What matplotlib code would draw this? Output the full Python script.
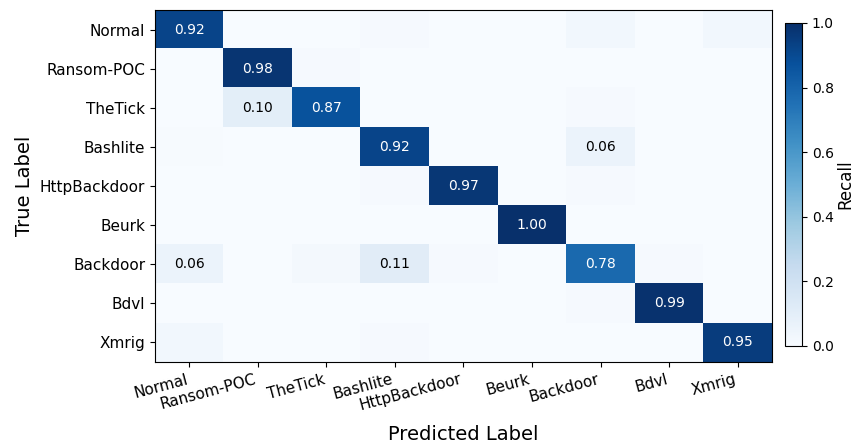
import numpy as np
import matplotlib
matplotlib.use("Agg")
import matplotlib.pyplot as plt

labels = ["Normal", "Ransom-POC", "TheTick", "Bashlite", "HttpBackdoor",
          "Beurk", "Backdoor", "Bdvl", "Xmrig"]

row_normal       = [0.92, 0.00, 0.00, 0.01, 0.00, 0.00, 0.03, 0.00, 0.03]
row_ransom       = [0.00, 0.98, 0.01, 0.00, 0.00, 0.00, 0.00, 0.00, 0.00]
row_thetick      = [0.00, 0.10, 0.87, 0.00, 0.00, 0.00, 0.01, 0.00, 0.00]
row_bashlite     = [0.005, 0.00, 0.00, 0.92, 0.00, 0.00, 0.06, 0.00, 0.00]
row_httpbackdoor = [0.00, 0.00, 0.00, 0.01, 0.97, 0.00, 0.01, 0.00, 0.00]
row_beurk        = [0.00, 0.00, 0.00, 0.00, 0.00, 1.00, 0.00, 0.00, 0.00]
row_backdoor     = [0.06, 0.00, 0.02, 0.11, 0.01, 0.00, 0.78, 0.01, 0.00]
row_bdvl         = [0.00, 0.00, 0.00, 0.00, 0.00, 0.00, 0.01, 0.99, 0.00]
row_xmrig        = [0.03, 0.00, 0.00, 0.01, 0.00, 0.00, 0.00, 0.00, 0.95]

cm = np.array([row_normal, row_ransom, row_thetick, row_bashlite, row_httpbackdoor,
               row_beurk, row_backdoor, row_bdvl, row_xmrig])

fig = plt.figure(figsize=(8.55, 4.42), dpi=100)
ax = fig.add_axes([0.1813, 0.181, 0.7216, 0.7964])
cax = fig.add_axes([0.918, 0.2172, 0.0199, 0.7308])

im = ax.imshow(cm, cmap="Blues", vmin=0, vmax=1, aspect="auto", interpolation="nearest")
n = len(labels)
for i in range(n):
    for j in range(n):
        v = cm[i, j]
        if v >= 0.05:
            ax.text(j, i, f"{v:.2f}", ha="center", va="center", fontsize=10,
                    color="white" if v > 0.5 else "black")

ax.set_xticks(range(n))
ax.set_yticks(range(n))
ax.set_xticklabels(labels, rotation=15, ha="right", fontsize=11)
ax.set_yticklabels(labels, fontsize=11)
ax.set_xlabel("Predicted Label", fontsize=14, labelpad=8)
ax.set_ylabel("True Label", fontsize=14)

cb = fig.colorbar(im, cax=cax)
cb.set_label("Recall", fontsize=12, labelpad=2)
cb.ax.tick_params(labelsize=10)
cb.set_ticks([0, 0.2, 0.4, 0.6, 0.8, 1.0])

fig.savefig("out.png", dpi=100)
